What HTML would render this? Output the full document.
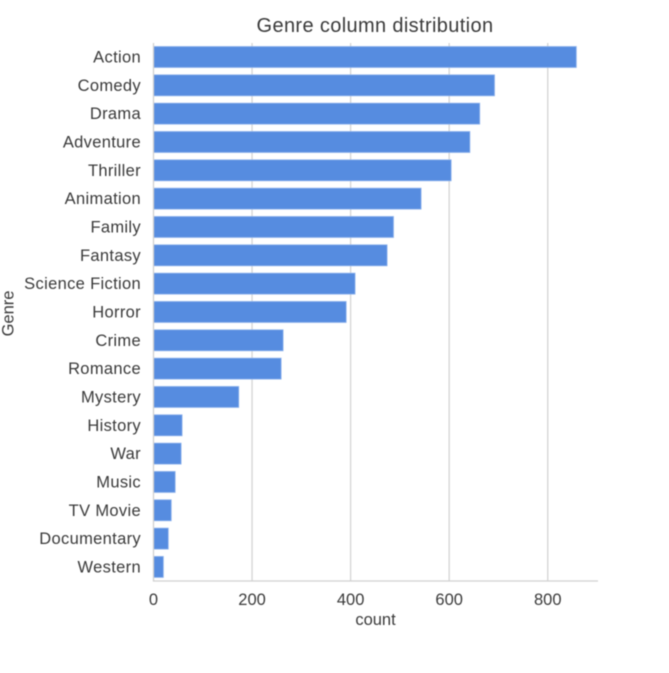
<!DOCTYPE html>
<html>
<head>
<meta charset="utf-8">
<style>
html,body{margin:0;padding:0;background:#fff;width:669px;height:673px;overflow:hidden}
svg{display:block;filter:blur(0.45px)}
text{font-family:"Liberation Sans",sans-serif;fill:#3a3a3a}
</style>
</head>
<body>
<svg id="chart" width="669" height="673" viewBox="0 0 669 673" xmlns="http://www.w3.org/2000/svg"></svg>
<script>
const categories = ["Action","Comedy","Drama","Adventure","Thriller","Animation","Family","Fantasy","Science Fiction","Horror","Crime","Romance","Mystery","History","War","Music","TV Movie","Documentary","Western"];
const counts = [858,692,662,642,604,543,487,474,409,391,263,259,173,58,56,44,36,30,20];
const xTicks = [0,200,400,600,800];
const chartTitle = "Genre column distribution";
const xLabel = "count";
const yLabel = "Genre";

const chartSvg = document.getElementById('chart');
const NS = 'http://www.w3.org/2000/svg';
const plotLeft = 153.5, plotRight = 598, plotTop = 43, plotBottom = 581;
const xMax = 902;
const band = 28.33, firstCenter = 57, barH = 21;
const labelSize = 16.5, labelSpacing = 0.33;
const xScale = v => plotLeft + v * (plotRight - plotLeft) / xMax;
const yScale = i => firstCenter + i * band;

function make(tag, attrs, text){
  const el = document.createElementNS(NS, tag);
  for (const k in attrs) el.setAttribute(k, attrs[k]);
  if (text !== undefined) el.textContent = text;
  chartSvg.appendChild(el);
  return el;
}

xTicks.forEach(t => {
  if (t === 0) return;
  const g = make('line', {x1:xScale(t), x2:xScale(t), y1:plotTop, y2:plotBottom, stroke:'#d4d4d4', 'stroke-width':1.3});
  
  
});

categories.forEach((c, i) => {
  const r = make('rect', {x:xScale(0), y:yScale(i) - barH/2, width:xScale(counts[i]) - xScale(0), height:barH, fill:'#568ce0', stroke:'#8fb3ec', 'stroke-width':0.8});
  
  
  const l = make('text', {x:141, y:yScale(i) + 5.5, 'text-anchor':'end', 'font-size':labelSize, 'letter-spacing':labelSpacing}, c);
  
  
});

const ySpine = make('line', {x1:plotLeft, x2:plotLeft, y1:plotTop, y2:plotBottom, stroke:'#d0d0d0', 'stroke-width':1.3});


const xSpine = make('line', {x1:plotLeft - 0.6, x2:plotRight, y1:plotBottom, y2:plotBottom, stroke:'#d0d0d0', 'stroke-width':1.3});



xTicks.forEach(t => {
  const l = make('text', {x:xScale(t), y:605, 'text-anchor':'middle', 'font-size':labelSize}, String(t));
  
  
});

const titleEl = make('text', {x:375, y:32, 'text-anchor':'middle', 'font-size':20, 'letter-spacing':0.36}, chartTitle);



const xt = make('text', {x:375.5, y:625, 'text-anchor':'middle', 'font-size':labelSize}, xLabel);



const yt = make('text', {x:0, y:0, transform:'translate(13.5,313.5) rotate(-90)', 'text-anchor':'middle', 'font-size':labelSize}, yLabel);


</script>
</body>
</html>
